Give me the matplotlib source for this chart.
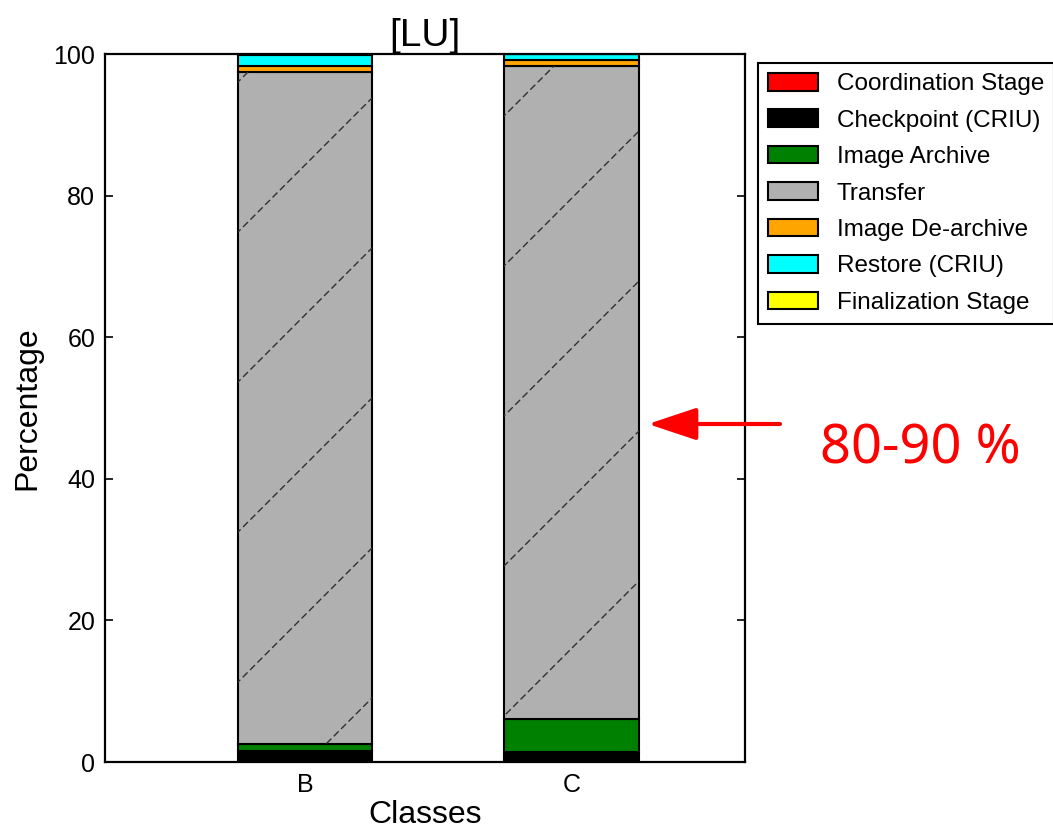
import matplotlib
matplotlib.use("Agg")
import matplotlib.pyplot as plt
from matplotlib.lines import Line2D
import numpy as np

classes = ['B', 'C']
stages = ['Coordination Stage', 'Checkpoint (CRIU)', 'Image Archive', 'Transfer',
          'Image De-archive', 'Restore (CRIU)', 'Finalization Stage']
coordination = [0.0, 0.0]
checkpoint = [1.6, 1.4]
archive = [0.9, 4.7]
transfer = [94.9, 92.2]
dearchive = [0.9, 0.8]
restore = [1.6, 0.85]
finalization = [0.1, 0.05]
series = [coordination, checkpoint, archive, transfer, dearchive, restore, finalization]
colors = ['#ff0000', '#000000', '#008000', '#b0b0b0', '#ffa500', '#00ffff', '#ffff00']
annotation = '80-90 %'

plt.rcParams['font.family'] = ['Liberation Sans', 'DejaVu Sans']
W, H = 1053, 831
fig = plt.figure(figsize=(W / 100, H / 100), dpi=100)
ax = fig.add_axes([105 / W, 1 - 762 / H, 640 / W, 708 / H])

x = np.arange(len(classes))
bottom = np.zeros(len(classes))
transfer_bars = None
for name, vals, col in zip(stages, series, colors):
    bars = ax.bar(x, vals, width=0.505, bottom=bottom, color=col, edgecolor='black',
                  linewidth=1.5, label=name, zorder=2)
    if name == 'Transfer':
        transfer_bars = bars
    bottom += np.array(vals)

# sparse dashed diagonal hatch on Transfer bars
for patch in transfer_bars:
    for c in range(170, 1800, 150):
        xs = np.array([0, 1053])
        ys = c - xs
        ln = Line2D(xs / W, 1 - ys / H, transform=fig.transFigure, color='#303030',
                    lw=1.0, linestyle=(0, (5, 2.5)), zorder=3)
        ax.add_line(ln)
        ln.set_clip_path(patch)

ax.set_xlim(-0.75, 1.65)
ax.set_ylim(0, 100)
ax.set_xticks(x)
ax.set_xticklabels(classes)
ax.set_yticks([0, 20, 40, 60, 80, 100])
ax.tick_params(axis='both', direction='in', length=6, width=1.2, labelsize=18,
               right=True, top=False, pad=7)
ax.tick_params(axis='x', length=0, pad=8)
for s in ax.spines.values():
    s.set_linewidth(1.6)
ax.set_xlabel('Classes', fontsize=23, labelpad=2)
ax.set_ylabel('Percentage', fontsize=23, labelpad=8)
ax.set_title('[LU]', fontsize=28, pad=4)

leg = fig.legend(loc='upper left', bbox_to_anchor=(758 / W, 1 - 63 / H),
                 bbox_transform=fig.transFigure, borderaxespad=0, fontsize=17.5,
                 handlelength=2.05, handleheight=0.75, labelspacing=0.58,
                 handletextpad=0.8, borderpad=0.4, fancybox=False, framealpha=1,
                 edgecolor='black')
leg.get_frame().set_linewidth(1.5)

ax.annotate('', xy=(648, H - 424), xytext=(780, H - 424), xycoords='figure pixels',
            textcoords='figure pixels',
            arrowprops=dict(arrowstyle='-|>,head_length=30,head_width=10',
                            mutation_scale=1, color='red', lw=3, shrinkA=0, shrinkB=0))
fig.text(820 / W, 1 - 449 / H, annotation, color='red', fontsize=39,
         family=['Noto Sans', 'DejaVu Sans'], fontstretch='condensed',
         ha='left', va='center')

fig.savefig('out.png', dpi=100)
